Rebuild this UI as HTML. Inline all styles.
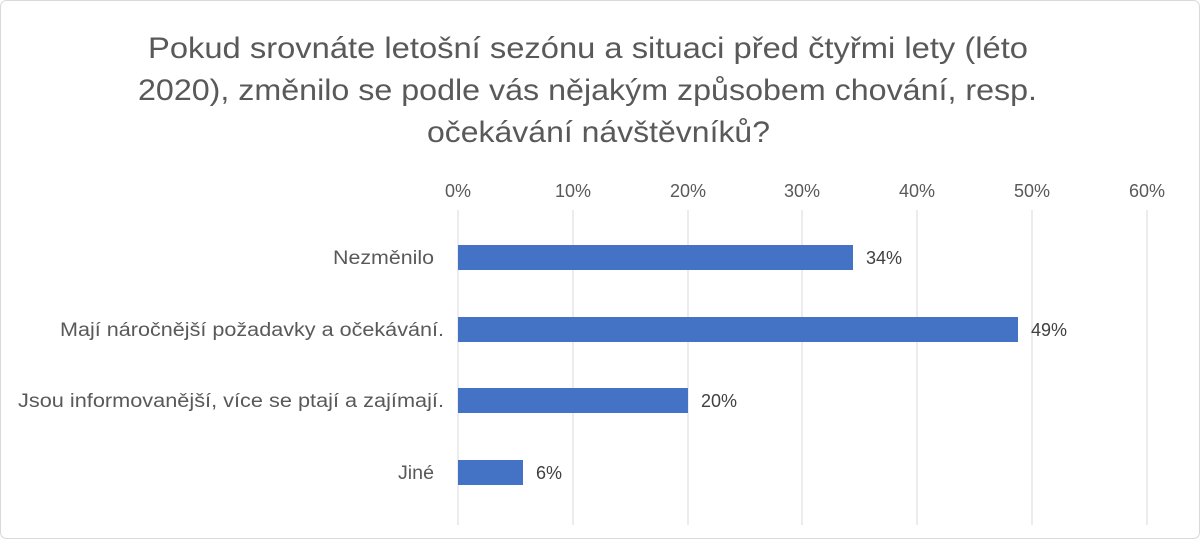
<!DOCTYPE html>
<html><head><meta charset="utf-8"><style>
body{margin:0;background:#fff;}
svg text{font-family:"Liberation Sans",sans-serif;}
</style></head><body>
<svg width="1200" height="539" xmlns="http://www.w3.org/2000/svg">
<rect x="0.5" y="0.5" width="1199" height="538" rx="6" fill="#fff" stroke="#d9d9d9"/>
<g fill="#595959" font-size="30">
<text x="148" y="58" textLength="880" lengthAdjust="spacingAndGlyphs">Pokud srovnáte letošní sezónu a situaci před čtyřmi lety (léto</text>
<text x="138" y="100" textLength="899" lengthAdjust="spacingAndGlyphs">2020), změnilo se podle vás nějakým způsobem chování, resp.</text>
<text x="427" y="142" textLength="343" lengthAdjust="spacingAndGlyphs">očekávání návštěvníků?</text>
</g>
<g stroke="#d9d9d9" stroke-width="1">
<line x1="458" y1="210" x2="458" y2="525"/>
<line x1="573" y1="210" x2="573" y2="525"/>
<line x1="688" y1="210" x2="688" y2="525"/>
<line x1="802" y1="210" x2="802" y2="525"/>
<line x1="917" y1="210" x2="917" y2="525"/>
<line x1="1032" y1="210" x2="1032" y2="525"/>
<line x1="1147" y1="210" x2="1147" y2="525"/>
</g>
<g fill="#595959" font-size="18" text-anchor="middle">
<text x="458" y="197">0%</text><text x="573" y="197">10%</text><text x="688" y="197">20%</text>
<text x="802" y="197">30%</text><text x="917" y="197">40%</text><text x="1032" y="197">50%</text><text x="1147" y="197">60%</text>
</g>
<g fill="#4472c4">
<rect x="458" y="245" width="395" height="25"/>
<rect x="458" y="317" width="560" height="25"/>
<rect x="458" y="388" width="230" height="25"/>
<rect x="458" y="460" width="65" height="25"/>
</g>
<g fill="#404040" font-size="18">
<text x="866" y="264">34%</text><text x="1031" y="336">49%</text>
<text x="701" y="407">20%</text><text x="536" y="479">6%</text>
</g>
<g fill="#595959" font-size="19">
<text x="333" y="264" textLength="101" lengthAdjust="spacingAndGlyphs">Nezměnilo</text>
<text x="60" y="336" textLength="384" lengthAdjust="spacingAndGlyphs">Mají náročnější požadavky a očekávání.</text>
<text x="18" y="407" textLength="426" lengthAdjust="spacingAndGlyphs">Jsou informovanější, více se ptají a zajímají.</text>
<text x="398" y="479" textLength="36" lengthAdjust="spacingAndGlyphs">Jiné</text>
</g>
</svg>
</body></html>
